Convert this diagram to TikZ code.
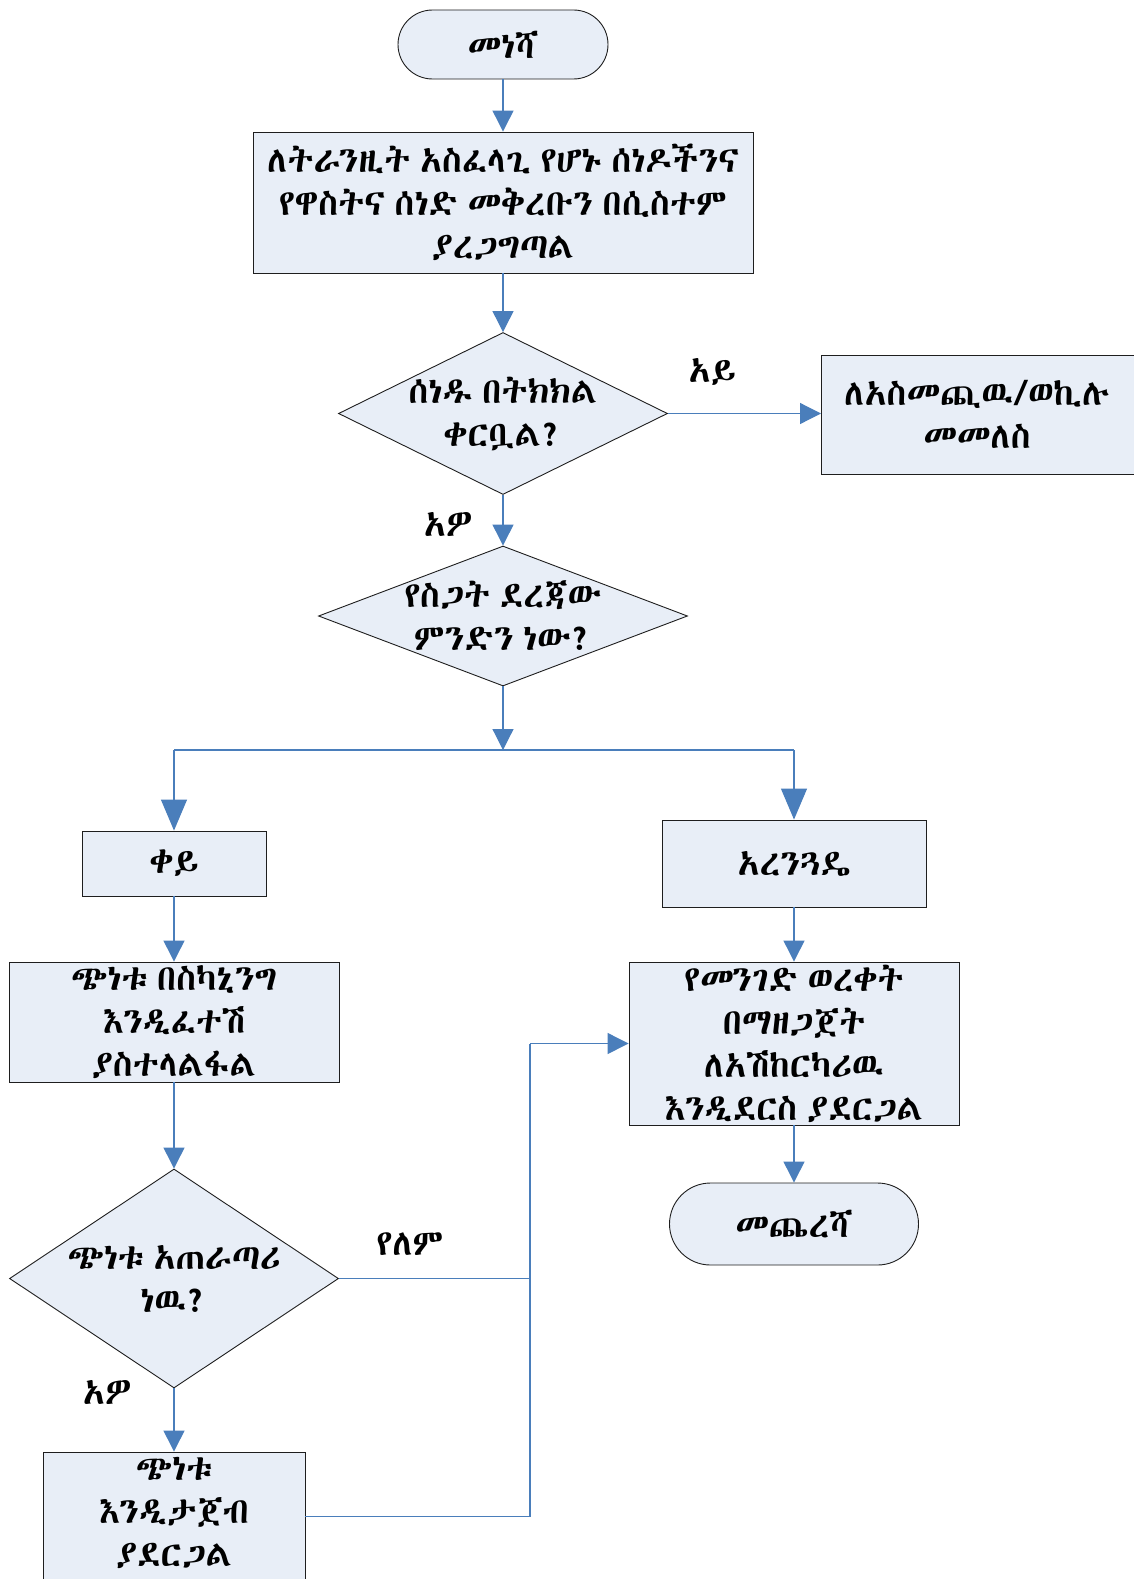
\documentclass[tikz,border=0pt]{standalone}
\usepackage{fontspec}
% Ethiopic needs a font that covers U+1200 block
\IfFontExistsTF{Abyssinica SIL}{\setmainfont[WordSpace=0.6]{Abyssinica SIL}}{%
  \IfFontExistsTF{FreeSerif}{\setmainfont[WordSpace=0.6]{FreeSerif}}{%
    \IfFontExistsTF{Noto Sans Ethiopic}{\setmainfont[WordSpace=0.6]{Noto Sans Ethiopic}}{%
      \setmainfont{DejaVu Sans}}}}
\usetikzlibrary{shapes.geometric,arrows.meta,calc}

\definecolor{boxfill}{HTML}{E8EEF7}
\definecolor{flow}{HTML}{4A7EBB}
\definecolor{edge}{HTML}{1E1E1E}

\tikzset{
  shapebase/.style={draw=edge, line width=0.9pt, fill=boxfill, inner sep=0pt},
  procbox/.style={shapebase, rectangle},
  decision/.style={shapebase, diamond},
  txt/.style={align=center, inner sep=0pt, font=\fontsize{36}{43}\selectfont},
  lbl/.style={inner sep=0pt, font=\fontsize{36}{43}\selectfont},
  flowline/.style={draw=flow, line width=1.2pt},
  arr/.style={flowline, -{Triangle[length=21pt,width=21pt]}},
  arrbig/.style={flowline, -{Triangle[length=31pt,width=26pt]}},
}

\begin{document}
\begin{tikzpicture}[x=1pt,y=-1pt]
\useasboundingbox (0,0) rectangle (1133,1579);

% terminals
\node[shapebase, rectangle, rounded corners=34.5pt, minimum width=210pt, minimum height=69pt] (start) at (503,44.5) {};
\node[txt] (startt) at (start) {መነሻ};

\node[shapebase, rectangle, rounded corners=41pt, minimum width=249pt, minimum height=82pt] (stop) at (794,1224) {};
\node[txt] (stopt) at (stop) {መጨረሻ};

% process boxes
\node[procbox, minimum width=500pt, minimum height=141pt] (check) at (503,202.5) {};
\node[txt] (checkt) at (check) {ለትራንዚት አስፈላጊ የሆኑ ሰነዶችንና\\የዋስትና ሰነድ መቅረቡን በሲስተም\\ያረጋግጣል};

\node[procbox, minimum width=330pt, minimum height=119pt, anchor=west] (ret) at (821,414.5) {};
\node[txt] (rett) at (977,414.5) {ለአስመጪዉ/ወኪሉ\\መመለስ};

\node[procbox, minimum width=184pt, minimum height=65pt] (red) at (174,863.5) {};
\node[txt] (redt) at (red) {ቀይ};

\node[procbox, minimum width=264pt, minimum height=87pt] (green) at (794,863.5) {};
\node[txt] (greent) at (green) {አረንጓዴ};

\node[procbox, minimum width=330pt, minimum height=120pt] (scan) at (174,1022) {};
\node[txt] (scant) at (scan) {ጭነቱ በስካኒንግ\\እንዲፈተሽ\\ያስተላልፋል};

\node[procbox, minimum width=330pt, minimum height=163pt] (road) at (794,1043.5) {};
\node[txt] (roadt) at (road) {የመንገድ ወረቀት\\በማዘጋጀት\\ለአሽከርካሪዉ\\እንዲደርስ ያደርጋል};

\node[procbox, minimum width=262pt, minimum height=129pt] (escort) at (174,1516.5) {};
\node[txt] (escortt) at (174,1513) {ጭነቱ\\እንዲታጀብ\\ያደርጋል};

% decisions
\node[decision, minimum width=329pt, minimum height=162pt] (d1) at (503,413.5) {};
\node[txt] (d1t) at (d1) {ሰነዱ በትክክል\\ቀርቧል?};

\node[decision, minimum width=369pt, minimum height=140pt] (d2) at (503,616) {};
\node[txt] (d2t) at (d2) {የስጋት ደረጃው\\ምንድን ነው?};

\node[decision, minimum width=329pt, minimum height=219pt] (d3) at (174,1278.5) {};
\node[txt] (d3t) at (d3) {ጭነቱ አጠራጣሪ\\ነዉ?};

% branch points
\coordinate (split) at (503,750);
\coordinate (merge) at (530,1043.5);

% connectors
\draw[arr] (start) -- (check);
\draw[arr] (check) -- (d1);
\draw[arr] (d1.east) -- (ret.west |- d1.east);
\draw[arr] (d1) -- (d2);
\draw[arr] (d2) -- (split);
\draw[flowline] (red.north |- split) -- (green.north |- split);
\draw[arrbig] (red.north |- split) -- (red.north);
\draw[arrbig] (green.north |- split) -- (green.north);
\draw[arr] (red) -- (scan);
\draw[arr] (scan) -- (d3);
\draw[arr] (d3) -- (escort);
\draw[arr] (green) -- (road);
\draw[arr] (road) -- (stop);
\draw[flowline] (d3.east) -- (d3.east -| merge);
\draw[flowline] (escort.east) -| (merge);
\draw[arr] (merge) -- (road.west);

% branch labels
\node[lbl] (lno1) at (712,372) {አይ};
\node[lbl] (lyes1) at (448,524) {አዎ};
\node[lbl] (lno2) at (410,1244) {የለም};
\node[lbl] (lyes2) at (107,1392) {አዎ};
\end{tikzpicture}
\end{document}
